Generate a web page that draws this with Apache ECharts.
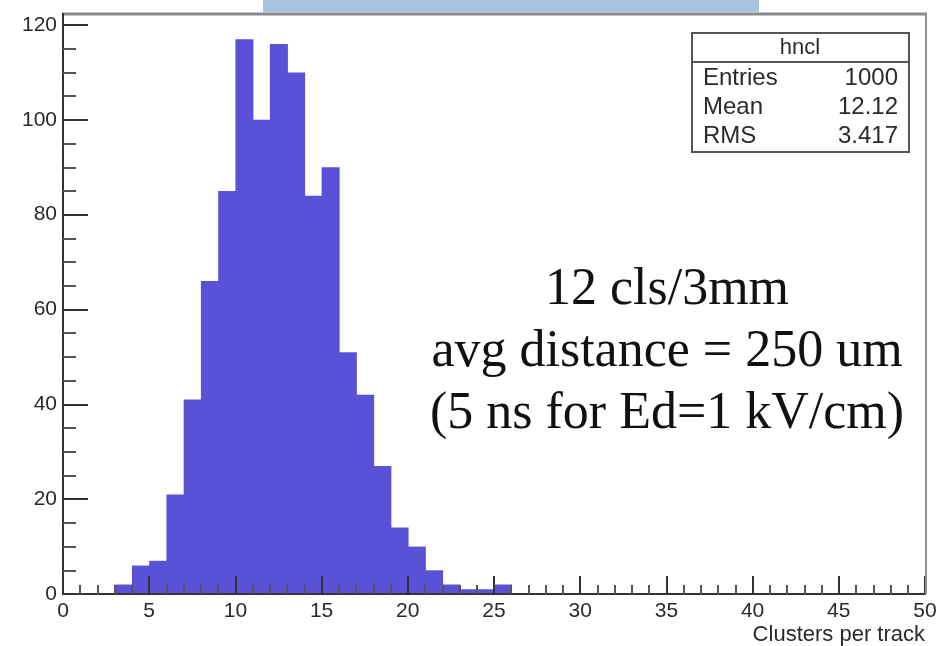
<!DOCTYPE html>
<html>
<head>
<meta charset="utf-8">
<script src="https://cdn.jsdelivr.net/npm/echarts@6/dist/echarts.min.js"></script>
<style>
html,body{margin:0;padding:0;background:#fff;}
#chart{width:941px;height:646px;}
</style>
</head>
<body>
<div id="chart"></div>
<script>
// Histogram "hncl": clusters per track, bin width 1
const binLow  = [3,4,5,6,7,8,9,10,11,12,13,14,15,16,17,18,19,20,21,22,23,24,25];
const binHigh = [4,5,6,7,8,9,10,11,12,13,14,15,16,17,18,19,20,21,22,23,24,25,26];
const counts  = [2,6,7,21,41,66,85,117,100,116,110,84,90,51,42,27,14,10,5,2,1,1,2];
const xTicks = [0,5,10,15,20,25,30,35,40,45,50];
const yTicks = [0,20,40,60,80,100,120];
const statsTitle = 'hncl';
const statsNames = ['Entries','Mean','RMS'];
const statsValues = ['1000','12.12','3.417'];
const noteLines = ['12 cls/3mm','avg distance = 250 um','(5 ns for Ed=1 kV/cm)'];
const xTitle = 'Clusters per track';

const chart = echarts.init(document.getElementById('chart'), null, {renderer:'canvas'});
const sans = '"Liberation Sans", Arial, Helvetica, sans-serif';
const serif = '"Liberation Serif", "Times New Roman", serif';
const axisCol = '#333333';
const barCol = '#5a52d6';

const data = binLow.map((v,i)=>[v, binHigh[i], counts[i]]);

const option = {
  animation:false,
  backgroundColor:'#ffffff',
  grid:{left:63, top:25, width:862, height:569, containLabel:false},
  xAxis:{
    type:'value', min:xTicks[0], max:xTicks[xTicks.length-1], interval:5, z:5,
    axisLine:{show:true, lineStyle:{color:axisCol, width:2}},
    axisTick:{show:true, inside:true, length:18, lineStyle:{color:axisCol, width:2}},
    minorTick:{show:true, splitNumber:5, length:9, lineStyle:{color:'#555', width:2}},
    splitLine:{show:false},
    axisLabel:{color:'#2a2a2a', fontFamily:sans, fontSize:21, margin:7}
  },
  yAxis:{
    type:'value', min:yTicks[0], max:yTicks[yTicks.length-1], interval:20, z:5,
    axisLine:{show:true, lineStyle:{color:axisCol, width:2}},
    axisTick:{show:true, inside:true, length:25, lineStyle:{color:axisCol, width:2}},
    minorTick:{show:true, splitNumber:4, length:13, lineStyle:{color:'#555', width:2}},
    splitLine:{show:false},
    axisLabel:{color:'#2a2a2a', fontFamily:sans, fontSize:21, margin:6}
  },
  series:[{
    type:'custom',
    encode:{x:[0,1], y:2},
    data:data,
    z:1,
    renderItem:function(params, api){
      const p0 = api.coord([api.value(0), api.value(2)]);
      const p1 = api.coord([api.value(1), 0]);
      return {
        type:'rect',
        shape:{x:p0[0], y:p0[1], width:p1[0]-p0[0]+0.8, height:p1[1]-p0[1]},
        style:{fill:barCol}
      };
    }
  }],
  graphic:[
    // frame top and right
    {type:'line', shape:{x1:62, y1:14, x2:927, y2:14}, style:{stroke:'#8a8a8a', lineWidth:3}, z:10},
    {type:'line', shape:{x1:926, y1:13, x2:926, y2:594}, style:{stroke:'#8f8f8f', lineWidth:2}, z:10},
    {type:'line', shape:{x1:63, y1:13, x2:63, y2:26}, style:{stroke:axisCol, lineWidth:2}, z:10},
    // slide banner fragment at top
    {type:'rect', shape:{x:263, y:0, width:496, height:12}, style:{fill:'#a8c3e0'}, z:11},
    // stats box
    {type:'rect', shape:{x:692, y:33, width:217, height:119}, style:{fill:'#ffffff', stroke:'#555555', lineWidth:2}, z:12},
    {type:'line', shape:{x1:692, y1:62, x2:909, y2:62}, style:{stroke:'#555555', lineWidth:2}, z:13},
    {type:'text', x:800, y:48, style:{text:statsTitle, font:'22px '+sans, fill:'#2a2a2a', align:'center', verticalAlign:'middle'}, z:13},
    ...statsNames.map((n,i)=>({type:'text', x:703, y:78+29*i, style:{text:n, font:'24px '+sans, fill:'#2a2a2a', align:'left', verticalAlign:'middle'}, z:13})),
    ...statsValues.map((v,i)=>({type:'text', x:898, y:78+29*i, style:{text:v, font:'24px '+sans, fill:'#2a2a2a', align:'right', verticalAlign:'middle'}, z:13})),
    // note text
    ...noteLines.map((t,i)=>({type:'text', x:667, y:290+62*i, style:{text:t, font:'52px '+serif, fill:'#111', align:'center', verticalAlign:'middle'}, z:13})),
    // x axis title
    {type:'text', x:925, y:635, style:{text:xTitle, font:'22px '+sans, fill:'#2a2a2a', align:'right', verticalAlign:'middle'}, z:13}
  ]
};
chart.setOption(option);
</script>
</body>
</html>
